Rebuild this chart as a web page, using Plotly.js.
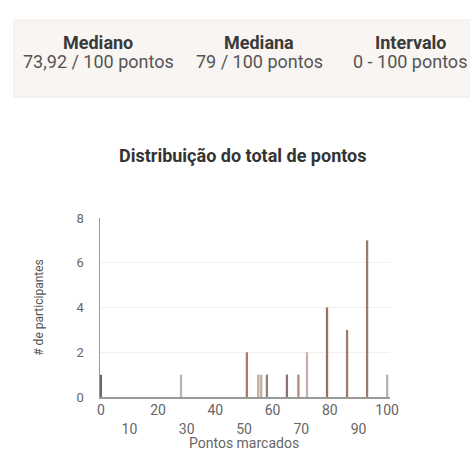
<!DOCTYPE html>
<html>
<head>
<meta charset="utf-8">
<script src="https://cdn.plot.ly/plotly-3.0.1.min.js"></script>
<style>
html,body{margin:0;padding:0;background:#fff;}
#chart{width:470px;height:450px;}
</style>
</head>
<body>
<div id="chart"></div>
<script>
// Header statistics
const statLabels = ["Mediano", "Mediana", "Intervalo"];
const statValues = ["73,92 / 100 pontos", "79 / 100 pontos", "0 - 100 pontos"];

// Distribution data
const scores = [0, 28, 51, 55, 56, 58, 65, 69, 72, 79, 86, 93, 100];
const participants = [1, 1, 2, 1, 1, 1, 1, 1, 2, 4, 3, 7, 1];
const barColors = ["#6f6562", "#bdb4b0", "#b07a62", "#c9a898", "#c2aea4", "#8f827d", "#8a7470", "#b48a76", "#c0b2aa", "#9a7262", "#a27a68", "#9e7868", "#b8b0ac"];

const xTickVals = [0, 10, 20, 30, 40, 50, 60, 70, 80, 90, 100];
const xTickText = ["0", "<br>10", "20", "<br>30", "40", "<br>50", "60", "<br>70", "80", "<br>90", "100"];
const yTickVals = [0, 2, 4, 6, 8];

const chartTitle = "Distribuição do total de pontos";
const xTitle = "Pontos marcados";
const yTitle = "# de participantes";

// geometry helpers (pixel -> paper)
const W = 470, H = 450;
const M = {l: 100, r: 80, t: 218, b: 53};
const pw = W - M.l - M.r, ph = H - M.t - M.b;
const px = x => (x - M.l) / pw;
const py = y => (H - M.b - y) / ph;

const statX = [98, 259, 410];
const annotations = [];
statLabels.forEach((t, i) => {
  annotations.push({text: "<b>" + t + "</b>", xref: "paper", yref: "paper", x: px(statX[i]), y: py(42),
    xanchor: "center", yanchor: "middle", showarrow: false, font: {family: "Roboto", size: 18, color: "#3a3a3a"}});
  annotations.push({text: statValues[i], xref: "paper", yref: "paper", x: px(statX[i]), y: py(61),
    xanchor: "center", yanchor: "middle", showarrow: false, font: {family: "Roboto", size: 18, color: "#555"}});
});
annotations.push({text: "<b>" + chartTitle + "</b>", xref: "paper", yref: "paper", x: px(242), y: py(155),
  xanchor: "center", yanchor: "middle", showarrow: false, font: {family: "Roboto", size: 18, color: "#333"}});
annotations.push({text: xTitle, xref: "paper", yref: "paper", x: px(244), y: py(443),
  xanchor: "center", yanchor: "middle", showarrow: false, font: {family: "Roboto", size: 14, color: "#666"}});

const shapes = [{
  type: "rect", xref: "paper", yref: "paper",
  x0: px(14), x1: px(475), y0: py(97), y1: py(20),
  fillcolor: "#f8f5f3", line: {color: "#efebe8", width: 1}, layer: "below"
}];

const trace = {
  type: "bar", x: scores, y: participants,
  width: 0.8,
  marker: {color: barColors, line: {width: 0}},
  hoverinfo: "x+y"
};

const layout = {
  width: W, height: H,
  margin: M,
  paper_bgcolor: "#fff", plot_bgcolor: "#fff",
  showlegend: false,
  font: {family: "Roboto", color: "#555", size: 13},
  xaxis: {
    range: [-0.3, 101], tickvals: xTickVals, ticktext: xTickText,
    showgrid: false, zeroline: false, showline: true, linecolor: "#999", linewidth: 1.5,
    ticks: "", tickfont: {size: 14, color: "#666"}
  },
  yaxis: {
    range: [0, 8], tickvals: yTickVals,
    showgrid: true, gridcolor: "#f3efed", zeroline: false, showline: true, linecolor: "#999", linewidth: 1.5,
    ticks: "", tickfont: {size: 13, color: "#666"}, ticklabelstandoff: 12,
    title: {text: yTitle, font: {size: 12, color: "#555"}, standoff: 30}
  },
  annotations: annotations,
  shapes: shapes
};

Plotly.newPlot("chart", [trace], layout, {displayModeBar: false, staticPlot: true});
</script>
</body>
</html>
